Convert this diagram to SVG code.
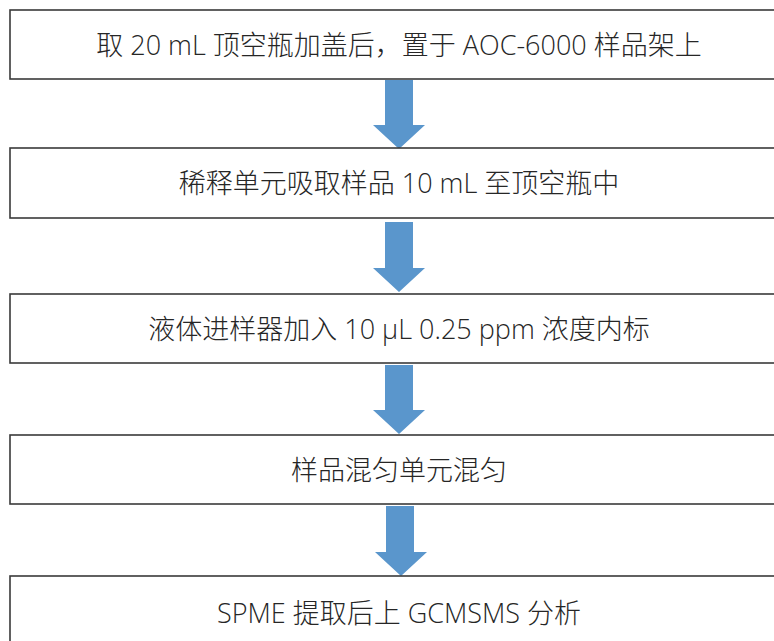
<svg xmlns="http://www.w3.org/2000/svg" width="774" height="641" viewBox="0 0 774 641">
<style>
.box rect{fill:#fff;stroke:#3a3a3a;stroke-width:1.6}
.box text{font-family:"Open Sans","Noto Sans CJK SC",sans-serif;font-size:27px;font-weight:300;fill:#262626;text-anchor:middle}
.arrow{fill:#5a96cc}
</style>
<rect width="774" height="641" fill="#fff"/>
<g id="connectors">
<polygon class="arrow" points="385,80 413,80 413,125 425,125 399,149 373,125 385,125"/>
<polygon class="arrow" points="385,222 413,222 413,268 425,268 399,292 373,268 385,268"/>
<polygon class="arrow" points="385,365 413,365 413,410 425,410 399,434 373,410 385,410"/>
<polygon class="arrow" points="386,506 414,506 414,552 427,552 401,576 375,552 386,552"/>
</g>
<g id="n1" class="box"><rect x="10" y="10" width="790" height="69"/><text x="399" y="54.5">取 20 mL 顶空瓶加盖后，置于 AOC-6000 样品架上</text></g>
<g id="n2" class="box"><rect x="10" y="148" width="790" height="70"/><text x="399" y="193">稀释单元吸取样品 10 mL 至顶空瓶中</text></g>
<g id="n3" class="box"><rect x="10" y="294" width="790" height="69"/><text x="399" y="338.5">液体进样器加入 10 μL 0.25 ppm 浓度内标</text></g>
<g id="n4" class="box"><rect x="10" y="435" width="790" height="69"/><text x="399" y="479.5">样品混匀单元混匀</text></g>
<g id="n5" class="box"><rect x="10" y="576" width="790" height="80"/><text x="399" y="622.5">SPME 提取后上 GCMSMS 分析</text></g>
</svg>
